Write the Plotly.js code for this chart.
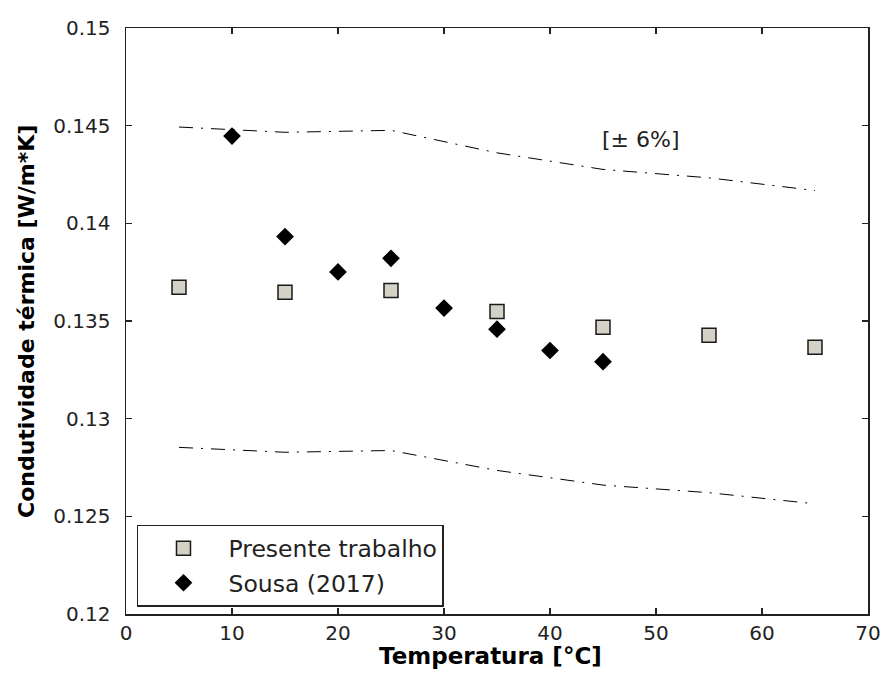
<!DOCTYPE html>
<html><head><meta charset="utf-8">
<script src="https://cdn.plot.ly/plotly-3.0.1.min.js"></script>
<style>html,body{margin:0;padding:0;background:#fff;}#chart{width:885px;height:682px;}</style>
</head><body><div id="chart"></div>
<script>
const presenteT = [5, 15, 25, 35, 45, 55, 65];
const presenteK = [0.13673, 0.13647, 0.13656, 0.13548, 0.13468, 0.13427, 0.13366];
const sousaT = [10, 15, 20, 25, 30, 35, 40, 45];
const sousaK = [0.14447, 0.13932, 0.13751, 0.13821, 0.13566, 0.13458, 0.13349, 0.13292];
const bandT = [5, 15, 25, 35, 45, 55, 65];
const upperK = [0.14493, 0.14466, 0.14476, 0.14361, 0.14276, 0.14233, 0.14168];
const lowerK = [0.12853, 0.12828, 0.12837, 0.12735, 0.12660, 0.12621, 0.12564];
const yTickVals = [0.12, 0.125, 0.13, 0.135, 0.14, 0.145, 0.15];
const yTickText = ['0.12', '0.125', '0.13', '0.135', '0.14', '0.145', '0.15'];
const xTickVals = [0, 10, 20, 30, 40, 50, 60, 70];
const xTitle = 'Temperatura [°C]';
const yTitle = 'Condutividade térmica [W/m*K]';

const F = '"DejaVu Sans", sans-serif';
const dashStyle = '14px,8px,2px,8px';
const traces = [
  {x: bandT, y: upperK, mode: 'lines', line: {color: '#000', width: 1, dash: dashStyle}, showlegend: false, hoverinfo: 'skip'},
  {x: bandT, y: lowerK, mode: 'lines', line: {color: '#000', width: 1, dash: dashStyle}, showlegend: false, hoverinfo: 'skip'},
  {x: presenteT, y: presenteK, mode: 'markers', name: 'Presente trabalho', legendgroup: 'a',
   marker: {symbol: 'square', size: 14, color: '#d4d2c6', line: {color: '#1a1a1a', width: 1.5}}},
  {x: sousaT, y: sousaK, mode: 'markers', name: 'Sousa (2017)', legendgroup: 'b',
   marker: {symbol: 'diamond', size: 12, color: '#000', line: {color: '#000', width: 1.5}}}
];
const axisCommon = {showgrid: false, zeroline: false, showline: true, linecolor: '#222', linewidth: 1.5,
  mirror: 'ticks', ticks: 'inside', ticklen: 6, tickcolor: '#222', tickwidth: 1.5,
  tickfont: {family: F, size: 20, color: '#222'}};
const layout = {
  width: 885, height: 682,
  margin: {l: 126, r: 17, t: 28, b: 68},
  paper_bgcolor: '#fff', plot_bgcolor: '#fff',
  font: {family: F, color: '#000'},
  xaxis: Object.assign({}, axisCommon, {range: [0, 70], tickvals: xTickVals}),
  yaxis: Object.assign({}, axisCommon, {range: [0.12, 0.15], tickvals: yTickVals, ticktext: yTickText,
    ticklabelstandoff: 10}),
  legend: {x: 0.0148, y: 0.152, xanchor: 'left', yanchor: 'top', bgcolor: '#fff',
    bordercolor: '#222', borderwidth: 1.5, itemwidth: 80, traceorder: 'grouped', tracegroupgap: 1,
    font: {family: F, size: 23.5, color: '#222'}},
  annotations: [
    {x: 48.6, y: 0.14427, xref: 'x', yref: 'y', text: '[± 6%]', showarrow: false,
     font: {family: F, size: 22, color: '#222'}},
    {x: 0.4906, y: -0.0717, xref: 'paper', yref: 'paper', xanchor: 'center', yanchor: 'middle',
     text: '<b>' + xTitle + '</b>', showarrow: false, font: {family: F, size: 23, color: '#000'}},
    {x: -0.1348, y: 0.5, xref: 'paper', yref: 'paper', xanchor: 'center', yanchor: 'middle', textangle: -90,
     text: '<b>' + yTitle + '</b>', showarrow: false, font: {family: F, size: 22, color: '#000'}}
  ],
  showlegend: true
};
Plotly.newPlot('chart', traces, layout, {displayModeBar: false, staticPlot: true});
</script></body></html>
